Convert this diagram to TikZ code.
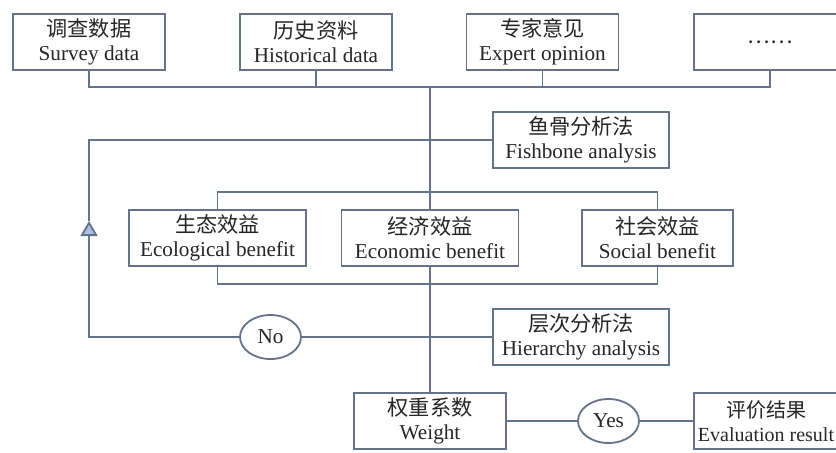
\documentclass[tikz,border=0pt]{standalone}
\usepackage{fontspec}
\setmainfont{Liberation Serif}
\newfontfamily\cjk{Noto Sans CJK SC}
\usetikzlibrary{arrows.meta,shapes.geometric,backgrounds}
\definecolor{linegray}{RGB}{100,115,138}
\definecolor{triblue}{RGB}{168,192,226}

\begin{document}
\begin{tikzpicture}[x=0.5pt,y=-0.5pt,
  box/.style={draw=linegray,fill=white,line width=0.9pt,minimum height=28pt,
    align=center,inner sep=1pt,text=black!85,font=\fontsize{10.6}{12}\selectfont},
  oval/.style={draw=linegray,fill=white,line width=0.9pt,ellipse,inner sep=0pt,
    minimum width=30.5pt,minimum height=22pt,text=black!85,font=\fontsize{10.6}{12}\selectfont},
  link/.style={draw=linegray,line width=0.9pt}]
\useasboundingbox (0,0) rectangle (836,452);
\clip (0,0) rectangle (836,452);
% the data sources
\node[box,minimum width=76pt] (survey) at (89,42) {{\cjk 调查数据}\\Survey data};
\node[box,minimum width=76pt] (history) at (316,42) {{\cjk 历史资料}\\Historical data};
\node[box,minimum width=76pt] (expert) at (542.5,42) {{\cjk 专家意见}\\Expert opinion};
\node[box,minimum width=76pt] (more) at (770,42) {{\cjk ……}};
% the methods and benefits
\node[box,minimum width=88pt] (fishbone) at (581,140) {{\cjk 鱼骨分析法}\\Fishbone analysis};
\node[box,minimum width=88.5pt] (eco) at (217.5,238) {{\cjk 生态效益}\\Ecological benefit};
\node[box,minimum width=88.5pt] (econ) at (430,238) {{\cjk 经济效益}\\Economic benefit};
\node[box,minimum width=75.5pt] (social) at (657.5,238) {{\cjk 社会效益}\\Social benefit};
\node[box,minimum width=88pt] (hierarchy) at (581,337) {{\cjk 层次分析法}\\Hierarchy analysis};
\node[box,minimum width=76pt] (weight) at (430,421) {{\cjk 权重系数}\\Weight};
\node[box,minimum width=72pt,font=\fontsize{10}{12}\selectfont] (result) at (766,421) {{\cjk 评价结果}\\Evaluation result};
% the decisions
\node[oval] (no) at (270.5,337) {No};
\node[oval] (yes) at (608.5,421) {Yes};
% the connectors
\coordinate (hub) at (430,87);
\coordinate (tri) at (89,221);
\begin{scope}[on background layer]
\draw[link] (survey.south) |- (hub) -| (more.south);
\draw[link] (history.south) -- (history.south |- hub);
\draw[link] (expert.south) -- (expert.south |- hub);
\draw[link] (hub) -- (weight.north);
\draw[link] ([yshift=8.5pt]eco.north) -- ([yshift=8.5pt]social.north)
  -- ([yshift=-8.5pt]social.south) -- ([yshift=-8.5pt]eco.south) -- cycle;
\draw[link] (hierarchy.west) -- (no.east);
\draw[link,-{Triangle[width=8.5pt,length=7.5pt,fill=triblue]}] (no.west) -| (tri);
\draw[link] (tri) |- (fishbone.west);
\draw[link] (weight.east) -- (yes.west);
\draw[link] (yes.east) -- (result.west);
\end{scope}
\end{tikzpicture}
\end{document}
